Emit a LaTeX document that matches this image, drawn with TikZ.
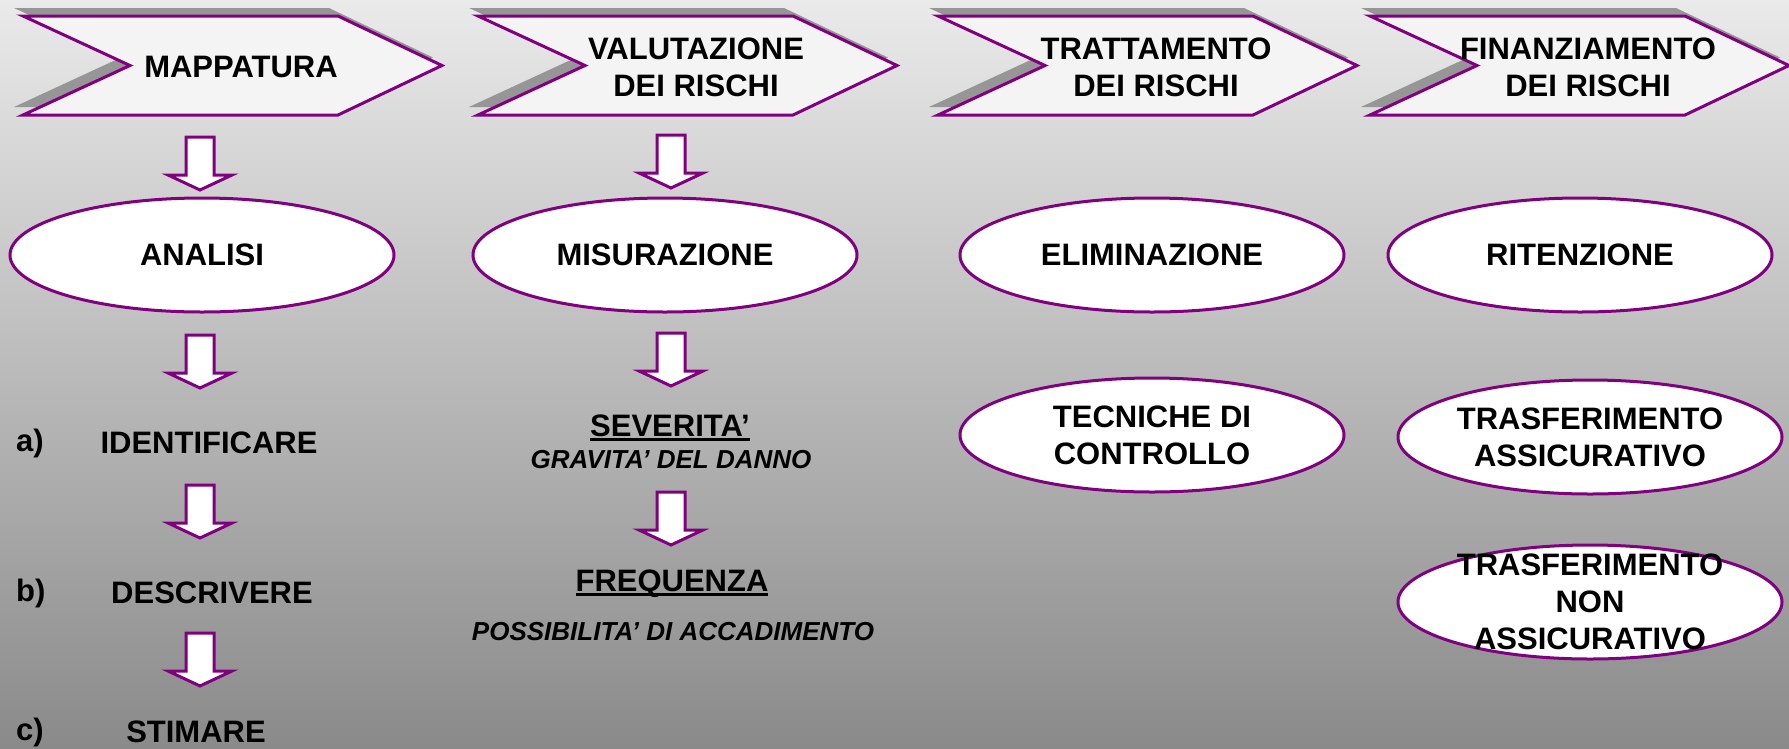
\documentclass[tikz,border=0pt]{standalone}
\usepackage{fontspec}
\setmainfont{Liberation Sans}
\usepackage{tikz}
\usetikzlibrary{shapes.geometric, positioning}
\definecolor{riskpurple}{RGB}{128,0,128}
\definecolor{bgtop}{RGB}{234,234,234}
\definecolor{bgbottom}{RGB}{138,138,138}
\definecolor{chevfill}{RGB}{244,244,244}
\definecolor{chevshadow}{RGB}{150,150,150}
\newcommand{\ulword}[1]{\setbox0\hbox{#1}\rlap{\rule[-4.5pt]{\wd0}{2.8pt}}\box0}

\tikzset{
  bigtxt/.style={font=\bfseries\fontsize{31}{37}\selectfont, align=center, inner sep=0pt},
  smalltxt/.style={font=\bfseries\itshape\fontsize{26}{31}\selectfont, inner sep=0pt},
  riskell/.style={ellipse, draw=riskpurple, line width=3pt, fill=white,
    minimum width=384pt, minimum height=114pt, inner sep=0pt, bigtxt},
  chevron/.style={draw=riskpurple, line width=3pt, fill=chevfill},
  downarr/.pic={\draw[riskpurple, line width=3pt, fill=white] (-14,0) -- (14,0) -- (14,38)
    -- (32,38) -- (0,53) -- (-32,38) -- (-14,38) -- cycle;}
}

\begin{document}
\begin{tikzpicture}[x=1pt, y=-1pt]
        % background
        \shade[top color=bgtop, bottom color=bgbottom] (0,0) rectangle (1789,748);
        \useasboundingbox (0,0) rectangle (1789,748);
        % phase chevrons
        \foreach \lx/\name/\txt in {23/mapp/MAPPATURA, 478/valu/{VALUTAZIONE\\DEI RISCHI},
                                    938/tratt/{TRATTAMENTO\\DEI RISCHI}, 1370/fina/{FINANZIAMENTO\\DEI RISCHI}} {
          \fill[chevshadow, shift={(-9,-8)}] (\lx,16) -- (\lx+315,16) -- (\lx+419,65.5)
            -- (\lx+315,115) -- (\lx,115) -- (\lx+107,65.5) -- cycle;
          \draw[chevron] (\lx,16) -- (\lx+315,16) -- (\lx+419,65.5)
            -- (\lx+315,115) -- (\lx,115) -- (\lx+107,65.5) -- cycle;
          \node[bigtxt] (\name) at (\lx+218,67) {\txt};
        }
        % block arrows
        \foreach \ax/\ay in {200/137, 200/335, 200/485, 200/633, 671/135, 671/333, 671/492}
          \pic at (\ax,\ay) {downarr};
        % first row
        \node[riskell] (analisi) at (202,255) {ANALISI};
        \node[riskell] (misur) at (665,255) {MISURAZIONE};
        \node[riskell] (elimin) at (1152,255) {ELIMINAZIONE};
        \node[riskell] (riten) at (1580,255) {RITENZIONE};
        % treatment and financing
        \node[riskell] (tecniche) at (1152,435) {TECNICHE DI\\CONTROLLO};
        \node[riskell] (trasfass) at (1590,437) {TRASFERIMENTO\\ASSICURATIVO};
        \node[riskell, label={[bigtxt, text depth=0pt]center:{TRASFERIMENTO\\NON\\ASSICURATIVO}}] (trasfnon) at (1590,602) {};
        % mapping steps
        \node[bigtxt, anchor=west] (stepa) at (16,443) {a)};
        \node[bigtxt] (ident) at (209,443) {IDENTIFICARE};
        \node[bigtxt, anchor=west] (stepb) at (16,593) {b)};
        \node[bigtxt] (descr) at (212,593) {DESCRIVERE};
        \node[bigtxt, anchor=west] (stepc) at (16,732) {c)};
        \node[bigtxt] (stima) at (196,732) {STIMARE};
        % measurement
        \node[bigtxt] (sever) at (670,428) {\ulword{SEVERITA’}};
        \node[smalltxt] (gravita) at (671,460) {GRAVITA’ DEL DANNO};
        \node[bigtxt] (freq) at (672,584) {\ulword{FREQUENZA}};
        \node[smalltxt] (possib) at (673,632) {POSSIBILITA’ DI ACCADIMENTO};
\end{tikzpicture}
\end{document}
